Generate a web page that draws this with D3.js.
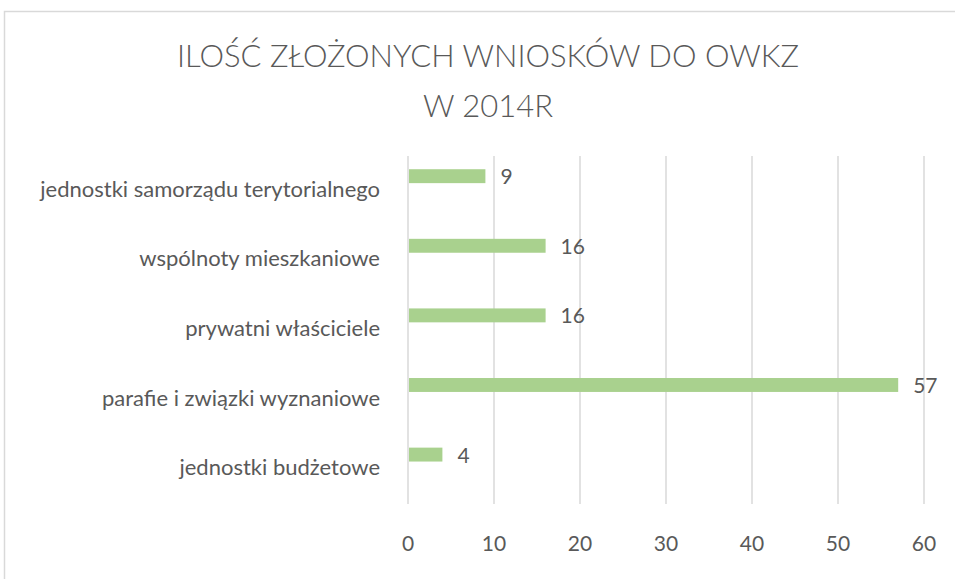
<!DOCTYPE html>
<html>
<head>
<meta charset="utf-8">
<script src="https://cdn.jsdelivr.net/npm/d3@7"></script>
<style>
  body { margin: 0; background: #fff; }
  svg text { font-family: Lato, "Open Sans", sans-serif; fill: #595959; }
</style>
</head>
<body>
<svg id="chart" width="955" height="579"></svg>
<script>
// data
const categories = [
  "jednostki samorządu terytorialnego",
  "wspólnoty mieszkaniowe",
  "prywatni właściciele",
  "parafie i związki wyznaniowe",
  "jednostki budżetowe"
];
const values = [9, 16, 16, 57, 4];
const xTicks = [0, 10, 20, 30, 40, 50, 60];
const titleLines = ["ILOŚĆ ZŁOŻONYCH WNIOSKÓW DO OWKZ", "W 2014R"];

const svg = d3.select("#chart");

// chart frame (runs off the right and bottom edge)
svg.append("rect")
  .attr("x", 4.5).attr("y", 11.5)
  .attr("width", 1000).attr("height", 700)
  .attr("fill", "none").attr("stroke", "#d9d9d9").attr("stroke-width", 1.5);

// title
svg.append("g").selectAll("text")
  .data(titleLines)
  .join("text")
  .attr("x", 488)
  .attr("y", (d, i) => 67 + i * 50)
  .attr("text-anchor", "middle")
  .attr("font-size", 31)
  .attr("font-weight", 300)
  .text(d => d);

const x = d3.scaleLinear().domain([0, 60]).range([408, 924]);
const y = d3.scaleBand().domain(categories).range([156, 504]);

// gridlines
svg.append("g").selectAll("line")
  .data(xTicks)
  .join("line")
  .attr("x1", d => x(d)).attr("x2", d => x(d))
  .attr("y1", 156).attr("y2", 504)
  .attr("stroke", "#d9d9d9").attr("stroke-width", 1.5);

// x tick labels
svg.append("g").selectAll("text")
  .data(xTicks)
  .join("text")
  .attr("x", d => x(d))
  .attr("y", 551)
  .attr("text-anchor", "middle")
  .attr("font-size", 21)
  .text(d => d);

// category labels
svg.append("g").selectAll("text")
  .data(categories)
  .join("text")
  .attr("x", 380)
  .attr("y", d => y(d) + y.bandwidth() / 2 + 6)
  .attr("text-anchor", "end")
  .attr("font-size", 22)
  .text(d => d);

// bars (sit in the upper part of each band, like the original)
const barTop = d => y(d) + y.bandwidth() * 0.19;
const barH = y.bandwidth() * 0.2;
svg.append("g").selectAll("rect")
  .data(values)
  .join("rect")
  .attr("x", x(0) + 1)
  .attr("y", (d, i) => barTop(categories[i]))
  .attr("width", d => x(d) - x(0) - 1)
  .attr("height", barH)
  .attr("fill", "#a9d18e");

// value labels
svg.append("g").selectAll("text")
  .data(values)
  .join("text")
  .attr("x", d => x(d) + 15)
  .attr("y", (d, i) => barTop(categories[i]) + barH + 1)
  .attr("font-size", 21)
  .text(d => d);
</script>
</body>
</html>
